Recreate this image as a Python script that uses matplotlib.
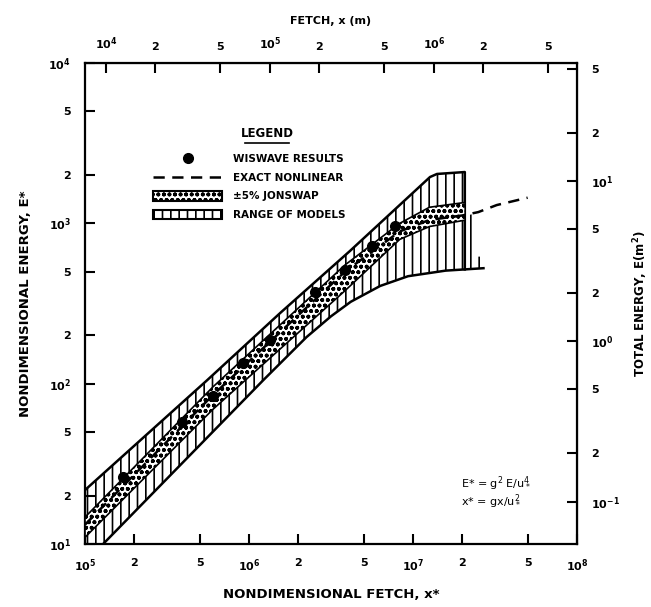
import numpy as np
import matplotlib.pyplot as plt
from matplotlib.lines import Line2D
from matplotlib.patches import Patch
from matplotlib.ticker import NullLocator

# x* = g x / u*^2 , E* = g^2 E / u*^4  (scale factors)
FETCH_SCALE = 13.4
ENERGY_SCALE = 184.0

# WISWAVE results
wis_x = [1.71e5, 3.90e5, 6.03e5, 9.18e5, 1.34e6, 2.52e6, 3.85e6, 5.62e6, 7.76e6]
wis_e = [26.2, 57.7, 83.8, 134.6, 187.5, 373, 512, 723, 964]

# exact nonlinear (dashed)
exact_x = [1e5, 6.03e5, 3.85e6, 8.3e6, 1.26e7, 2.0e7, 2.5e7, 3.24e7, 5.0e7]
exact_e = [13.2, 85, 500, 890, 1050, 1120, 1175, 1300, 1445]

# +-5% JONSWAP band
jon_x = [1e5, 6.03e5, 3.85e6, 8.3e6, 1.26e7, 2.08e7]
jon_hi = [14.7, 95.5, 550, 1000, 1260, 1350]
jon_lo = [11.0, 69.2, 380, 794, 955, 1047]

# range of models
rng_hi_x = [1e5, 5.55e5, 1.55e6, 4.13e6, 1.27e7, 1.40e7, 2.07e7]
rng_hi_e = [21.7, 105, 276, 673, 1945, 2032, 2089]
rng_tail_x = [2.09e7, 2.45e7, 2.46e7, 2.69e7]
rng_tail_e = [1120, 1150, 620, 620]
rng_lo_x = [1e5, 1.29e5, 1.22e6, 2.24e6, 3.16e6, 4.17e6, 6.31e6, 9.33e6, 1.58e7, 2.69e7]
rng_lo_e = [7.8, 10, 105, 195, 263, 324, 407, 468, 507, 525]

x_ticks = [1e5, 2e5, 5e5, 1e6, 2e6, 5e6, 1e7, 2e7, 5e7, 1e8]
x_labels = ['10$^5$', '2', '5', '10$^6$', '2', '5', '10$^7$', '2', '5', '10$^8$']
y_ticks = [1e1, 2e1, 5e1, 1e2, 2e2, 5e2, 1e3, 2e3, 5e3, 1e4]
y_labels = ['10$^1$', '2', '5', '10$^2$', '2', '5', '10$^3$', '2', '5', '10$^4$']
fetch_ticks = [1e4, 2e4, 5e4, 1e5, 2e5, 5e5, 1e6, 2e6, 5e6]
fetch_labels = ['10$^4$', '2', '5', '10$^5$', '2', '5', '10$^6$', '2', '5']
en_ticks = [1e-1, 2e-1, 5e-1, 1e0, 2e0, 5e0, 1e1, 2e1, 5e1]
en_labels = ['10$^{-1}$', '2', '5', '10$^0$', '2', '5', '10$^1$', '2', '5']

plt.rcParams['font.family'] = ['DejaVu Sans']
plt.rcParams['font.weight'] = 'bold'
plt.rcParams['mathtext.default'] = 'regular'
plt.rcParams['hatch.linewidth'] = 1.2

fig = plt.figure(figsize=(6.51, 6.07), dpi=100)
ax = fig.add_axes([85 / 651, 1 - 544 / 607, 492 / 651, 481 / 607])
ax.set_xscale('log')
ax.set_yscale('log')
ax.set_xlim(1e5, 1e8)
ax.set_ylim(10, 1e4)

# range of models (vertical hatch)
poly_x = np.r_[rng_hi_x, rng_tail_x, rng_lo_x[::-1]]
poly_y = np.r_[rng_hi_e, rng_tail_e, rng_lo_e[::-1]]
ax.fill(poly_x, poly_y, facecolor='white', edgecolor='black', hatch='||', linewidth=0, zorder=1)
low_end = 10 ** np.interp(np.log10(rng_hi_x[-1]), np.log10(rng_lo_x), np.log10(rng_lo_e))
ax.plot(rng_hi_x + [rng_hi_x[-1]], rng_hi_e + [low_end], color='black', lw=1.8, zorder=2)
ax.plot(rng_lo_x, rng_lo_e, color='black', lw=1.8, zorder=2)

# JONSWAP band (dotted)
ax.fill(np.r_[jon_x, jon_x[::-1]], np.r_[jon_hi, jon_lo[::-1]], facecolor='white',
        edgecolor='black', hatch='ooo', linewidth=1.2, zorder=3)

dash = (0, (4.5, 3))
ax.plot(exact_x, exact_e, color='black', lw=1.8, ls=dash, zorder=4)
ax.plot(wis_x, wis_e, 'o', color='black', ms=7, zorder=5)

tick_font = dict(fontsize=8, fontweight='bold')
ax.set_xticks(x_ticks)
ax.set_xticklabels(x_labels, **tick_font)
ax.set_yticks(y_ticks)
ax.set_yticklabels(y_labels, **tick_font)
ax.xaxis.set_minor_locator(NullLocator())
ax.yaxis.set_minor_locator(NullLocator())
ax.tick_params(direction='in', length=7, width=1.5, pad=10)
for s in ax.spines.values():
    s.set_linewidth(1.6)

top = ax.secondary_xaxis('top', functions=(lambda x: x / FETCH_SCALE, lambda x: x * FETCH_SCALE))
top.set_xticks(fetch_ticks)
top.set_xticklabels(fetch_labels, **tick_font)
top.xaxis.set_minor_locator(NullLocator())
top.tick_params(direction='in', length=7, width=1.5, pad=8)
top.set_xlabel('FETCH, x (m)', fontsize=8, fontweight='bold', labelpad=8)

right = ax.secondary_yaxis('right', functions=(lambda e: e / ENERGY_SCALE, lambda e: e * ENERGY_SCALE))
right.set_yticks(en_ticks)
right.set_yticklabels(en_labels, **tick_font)
right.yaxis.set_minor_locator(NullLocator())
right.tick_params(direction='in', length=7, width=1.5, pad=10)
right.set_ylabel('TOTAL ENERGY, E(m$^2$)', fontsize=8.5, fontweight='bold', labelpad=8)

ax.set_xlabel('NONDIMENSIONAL FETCH, x*', fontsize=9.5, fontweight='bold', labelpad=10)
ax.set_ylabel('NONDIMENSIONAL ENERGY, E*', fontsize=9.5, fontweight='bold', labelpad=12)

# legend
handles = [
    Line2D([], [], marker='o', ls='none', color='black', ms=7),
    Line2D([], [], color='black', lw=1.8, ls=dash),
    Patch(facecolor='white', edgecolor='black', hatch='ooo', lw=1.5),
    Patch(facecolor='white', edgecolor='black', hatch='||', lw=1.5),
]
labels = ['WISWAVE RESULTS', 'EXACT NONLINEAR', '±5% JONSWAP', 'RANGE OF MODELS']
ax.legend(handles, labels, loc='upper left', bbox_to_anchor=(0.12, 0.83), frameon=False,
          prop={'size': 7.5, 'weight': 'bold'}, handlelength=6.6, handleheight=1.0,
          handletextpad=1.0, labelspacing=0.8)
ax.text(0.37, 0.84, 'LEGEND', transform=ax.transAxes, ha='center', va='bottom',
        fontsize=8.5, fontweight='bold')
ax.plot([0.325, 0.415], [0.834, 0.834], transform=ax.transAxes, color='black', lw=1.2)

ax.text(0.765, 0.127, 'E* = g$^2$ E/u$_*^4$', transform=ax.transAxes, fontsize=8,
        fontweight='normal', va='center')
ax.text(0.765, 0.088, 'x* = gx/u$_*^2$', transform=ax.transAxes, fontsize=8,
        fontweight='normal', va='center')

fig.savefig('out.png', dpi=100)
